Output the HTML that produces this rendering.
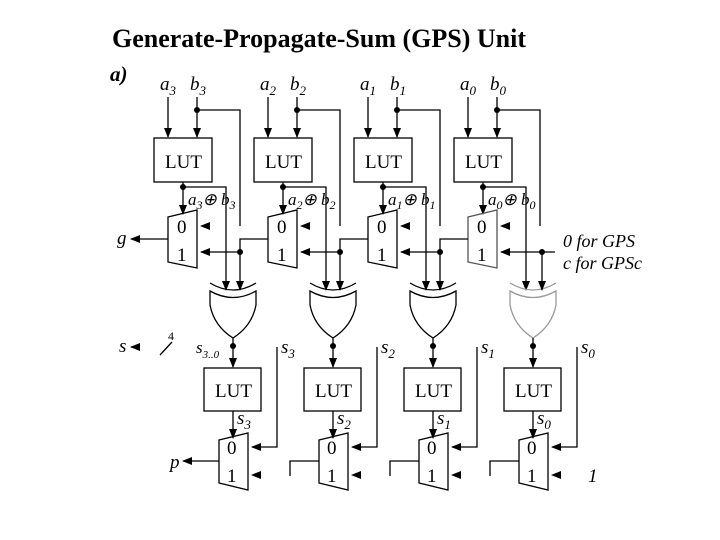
<!DOCTYPE html>
<html><head><style>
body{margin:0;background:#fff}
svg{display:block}
text{font-family:"Liberation Serif",serif}
.i{font-style:italic}
</style></head><body>
<svg width="720" height="540" viewBox="0 0 720 540" xmlns="http://www.w3.org/2000/svg">
<defs>
<marker id="ah" markerWidth="10" markerHeight="8" refX="9" refY="4" orient="auto" markerUnits="userSpaceOnUse">
<path d="M0,0 L10,4 L0,8 Z" fill="#000"/></marker>
</defs>
<text x="112" y="47" font-size="26" font-weight="bold">Generate-Propagate-Sum (GPS) Unit</text>
<text x="110" y="81" font-size="21" font-weight="bold" class="i">a)</text>

<g id="cols" stroke="#000" stroke-width="1.3" fill="none">
</g>
<script>
(function(){
var g=document.getElementById('cols');var ns='http://www.w3.org/2000/svg';
function el(t,a,txt){var e=document.createElementNS(ns,t);for(var k in a)e.setAttribute(k,a[k]);if(txt!=null)e.textContent=txt;g.appendChild(e);return e;}
function ts(p,txt,a){var s=document.createElementNS(ns,'tspan');for(var k in a)s.setAttribute(k,a[k]);s.textContent=txt;p.appendChild(s);return s;}
function ln(x1,y1,x2,y2,arr){var a={x1:x1,y1:y1,x2:x2,y2:y2};if(arr)a['marker-end']='url(#ah)';el('line',a);}
function pl(p,arr){var a={points:p};if(arr)a['marker-end']='url(#ah)';el('polyline',a);}
function dot(x,y){el('circle',{cx:x,cy:y,r:3,fill:'#000',stroke:'none'});}
function tx(x,y,s,sz,sub,it){var t=el('text',{x:x,y:y,'font-size':sz,fill:'#000',stroke:'none','class':it?'i':''});t.textContent=s;return t;}
function lab(x,y,b,sub){var t=el('text',{x:x,y:y,'font-size':19,fill:'#000',stroke:'none','class':'i'});t.textContent=b;ts(t,sub,{dy:'5','font-size':'13'});}
function arrHead(x,y){el('path',{d:'M'+x+','+y+' l10,-4 l0,8 z',fill:'#000',stroke:'none'});}
for(var k=0;k<4;k++){
 var o=100*k,bit=3-k;
 lab(160+o,90,'a',bit);lab(190+o,90,'b',bit);
 ln(168+o,97,168+o,137,1);ln(197+o,97,197+o,137,1);
 dot(197+o,110);pl((197+o)+',110 '+(240+o)+',110 '+(240+o)+',226');
 el('rect',{x:154+o,y:138,width:58,height:44});
 tx(165+o,168,'LUT',19);
 dot(183+o,187);ln(183+o,182,183+o,214,1);
 pl((183+o)+',187 '+(226+o)+',187 '+(226+o)+',290',1);
 var t=el('text',{x:188+o,y:205,'font-size':17,fill:'#000',stroke:'none','class':'i'});
 t.textContent='a';ts(t,''+bit,{dy:'4','font-size':'12'});ts(t,'\u2295 b',{dy:'-4'});ts(t,''+bit,{dy:'4','font-size':'12'});
 el('path',{d:'M'+(168+o)+',217 L'+(197+o)+',210 L'+(197+o)+',268 L'+(168+o)+',262 Z',stroke:k==3?'#555':'#000'});
 tx(177+o,233,'0',19);tx(177+o,261,'1',19);
 arrHead(200+o,226);
 var cx=240+o;
 if(k>0){pl((168+o)+',239 '+(140+o)+',239 '+(140+o)+',252');}
 if(k<3){dot(cx,252);ln(cx,252,201+o,252,1);ln(cx,252,cx,290,1);}
 var c=233+o;var col=k==3?'#999':'#000';
 el('path',{d:'M'+(c-23)+',283 Q'+c+',297 '+(c+23)+',283',stroke:col});
 el('path',{d:'M'+(c-23)+',291 Q'+c+',304 '+(c+23)+',291 L'+(c+23)+',305 Q'+(c+19)+',326 '+c+',338 Q'+(c-19)+',326 '+(c-23)+',305 Z',stroke:col});
 dot(c,346);ln(c,338,c,367,1);
 el('rect',{x:204+o,y:368,width:57,height:43});
 tx(215+o,397,'LUT',19);
 ln(c,411,c,438,1);lab(237+o,424,'s',bit);
 el('path',{d:'M'+(219+o)+',440 L'+(248+o)+',433 L'+(248+o)+',490 L'+(219+o)+',483 Z'});
 tx(227+o,454,'0',19);tx(227+o,482,'1',19);
 arrHead(251+o,475);
 pl((277+o)+',347 '+(277+o)+',447 '+(252+o)+',447',1);
 lab(281+o,353,'s',bit);
 if(k>0){pl((219+o)+',461 '+(190+o)+',461 '+(190+o)+',476');}
}
ln(168,239,131,239,1);
tx(117,244,'g',19,0,1);
ln(140,347,131,347);arrHead(130,347);
tx(119,352,'s',19,0,1);
ln(160,355,172,342);tx(168,340,'4',12);
var t=el('text',{x:196,y:353,'font-size':17,fill:'#000',stroke:'none','class':'i'});t.textContent='s';ts(t,'3..0',{dy:'5','font-size':'11'});
ln(219,461,183,461);arrHead(182,461);
tx(170,468,'p',19,0,1);
ln(555,252,501,252,1);dot(542,252);ln(542,252,542,290,1);
el('text',{x:563,y:247,'font-size':18,'class':'i',fill:'#000',stroke:'none'}).textContent='0 for GPS';
el('text',{x:563,y:269,'font-size':18,'class':'i',fill:'#000',stroke:'none'}).textContent='c for GPSc';
el('text',{x:588,y:482,'font-size':19,'class':'i',fill:'#000',stroke:'none'}).textContent='1';
})();
</script>
</svg>
</body></html>
